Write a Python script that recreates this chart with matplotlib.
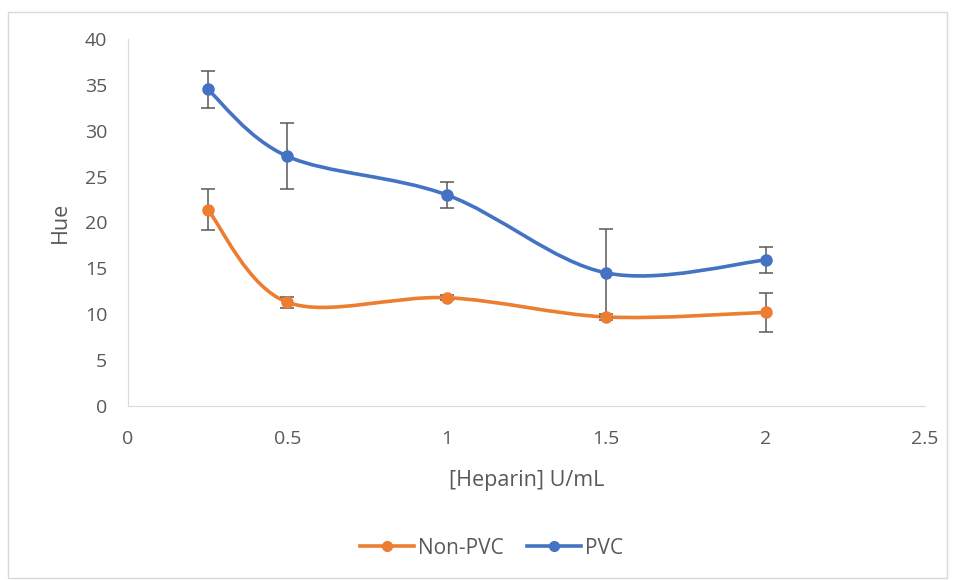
import numpy as np
import matplotlib.pyplot as plt
from matplotlib.path import Path
from matplotlib.patches import PathPatch, Rectangle

# data
heparin = [0.25, 0.5, 1.0, 1.5, 2.0]
non_pvc = [21.4, 11.3, 11.8, 9.7, 10.2]
non_pvc_err = [2.2, 0.6, 0.3, 0.3, 2.1]
pvc = [34.5, 27.2, 23.0, 14.5, 15.9]
pvc_err = [2.0, 3.6, 1.4, 4.8, 1.4]

orange = '#ED7D31'
blue = '#4472C4'
grey = '#595959'

plt.rcParams['font.family'] = ['Open Sans', 'DejaVu Sans']


def smooth_path(x, y):
    # excel style smoothed line: bezier through points (catmull-rom)
    x = np.asarray(x, float)
    y = np.asarray(y, float)
    pts = np.column_stack([x, y])
    n = len(pts)
    verts = [pts[0]]
    codes = [Path.MOVETO]
    for i in range(n - 1):
        p0 = pts[i - 1] if i > 0 else pts[i]
        p1 = pts[i]
        p2 = pts[i + 1]
        p3 = pts[i + 2] if i + 2 < n else pts[i + 1]
        c1 = p1 + (p2 - p0) / 6.0
        c2 = p2 - (p3 - p1) / 6.0
        verts += [c1, c2, p2]
        codes += [Path.CURVE4] * 3
    return Path(verts, codes)


fig = plt.figure(figsize=(9.58, 5.8), dpi=100)
fig.patches.append(Rectangle((8 / 958, 2 / 580), 939 / 958, 566 / 580,
                             transform=fig.transFigure, fill=False,
                             edgecolor='#D9D9D9', linewidth=1))
ax = fig.add_axes([0.1336, 0.30, 0.832, 0.633])

for yv, ye, col, lab in [(non_pvc, non_pvc_err, orange, 'Non-PVC'),
                         (pvc, pvc_err, blue, 'PVC')]:
    ax.add_patch(PathPatch(smooth_path(heparin, yv), facecolor='none',
                           edgecolor=col, linewidth=2.6, zorder=2))
    ax.errorbar(heparin, yv, yerr=ye, fmt='none', ecolor=grey,
                elinewidth=1.1, capsize=5, capthick=1.1, zorder=3)
    ax.plot(heparin, yv, 'o', color=col, markersize=8, zorder=4)
    ax.plot([], [], '-o', color=col, linewidth=2.6, markersize=7, label=lab)

ax.set_xlim(0, 2.5)
ax.set_ylim(0, 40)
ax.set_xticks([0, 0.5, 1, 1.5, 2, 2.5])
ax.set_xticklabels(['0', '0.5', '1', '1.5', '2', '2.5'])
ax.set_yticks(range(0, 41, 5))
ax.tick_params(length=0, labelsize=14, labelcolor=grey)
ax.tick_params(axis='y', pad=15)
ax.tick_params(axis='x', pad=17)
for s in ['top', 'right']:
    ax.spines[s].set_visible(False)
for s in ['left', 'bottom']:
    ax.spines[s].set_color('#D9D9D9')

ax.set_xlabel('[Heparin] U/mL', fontsize=15.5, color=grey, labelpad=16)
ax.set_ylabel('Hue', fontsize=15.5, color=grey, labelpad=10)

fig.legend(loc='center', bbox_to_anchor=(0.513, 0.055), ncol=2, frameon=False,
           fontsize=15, labelcolor=grey, handlelength=2.6,
           columnspacing=1.1, handletextpad=0.2)

fig.savefig('out.png', dpi=100)
